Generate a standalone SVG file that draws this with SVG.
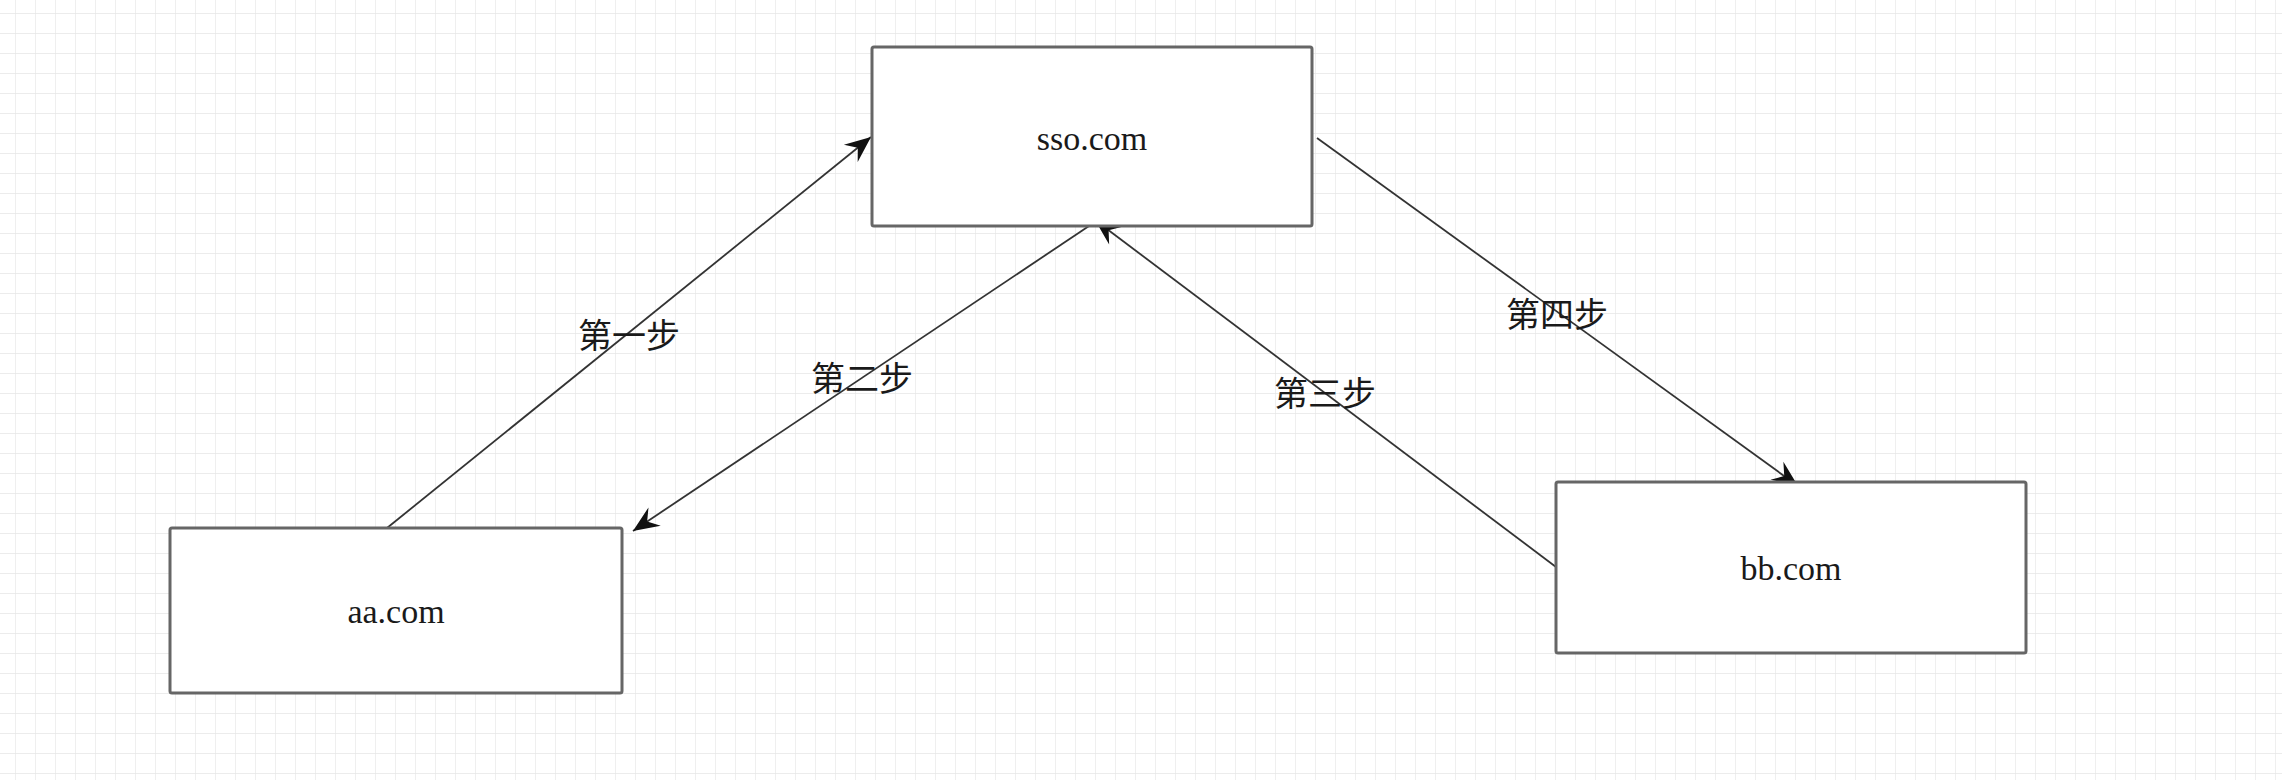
<svg xmlns="http://www.w3.org/2000/svg" width="2282" height="780" viewBox="0 0 2282 780">
<style>
.box{fill:#ffffff;stroke:#666666;stroke-width:3}
.lbl{font-family:"Liberation Serif","DejaVu Serif",serif;font-size:34px;fill:#1a1a1a;text-anchor:middle;dominant-baseline:central}
.step{font-family:"Liberation Serif","Noto Sans CJK SC",serif;font-size:34px;fill:#1a1a1a;text-anchor:middle;dominant-baseline:central}
.edge{fill:none;stroke:#333333;stroke-width:1.8}
</style>
<defs>
<pattern id="grid" patternUnits="userSpaceOnUse" x="15" y="13" width="20" height="20">
<path d="M0,0 V20 M0,0 H20" fill="none" stroke="#e6e6e6" stroke-width="1.3"/>
</pattern>
<marker id="arr" viewBox="-28 -13 30 26" refX="0" refY="0" markerWidth="30" markerHeight="26" markerUnits="userSpaceOnUse" orient="auto">
<path d="M0,0 L-26,-11 L-17,0 L-26,11 Z" fill="#111111"/>
</marker>
</defs>
<rect width="2282" height="780" fill="#ffffff"/>
<rect width="2282" height="780" fill="url(#grid)"/>
<g id="connectors">
<line class="edge" x1="387" y1="528" x2="871" y2="137" marker-end="url(#arr)"/>
<line class="edge" x1="1092" y1="224" x2="633" y2="531" marker-end="url(#arr)"/>
<line class="edge" x1="1556" y1="567" x2="1095" y2="220" marker-end="url(#arr)"/>
<line class="edge" x1="1317" y1="138" x2="1798" y2="486" marker-end="url(#arr)"/>
</g>
<g id="labels">
<text class="step" x="629" y="336">第一步</text>
<text class="step" x="862" y="379">第二步</text>
<text class="step" x="1325" y="394">第三步</text>
<text class="step" x="1557" y="315">第四步</text>
</g>
<g id="sso">
<rect class="box" x="872" y="47" width="440" height="179" rx="2"/>
<text class="lbl" x="1092" y="138">sso.com</text>
</g>
<g id="aa">
<rect class="box" x="170" y="528" width="452" height="165" rx="2"/>
<text class="lbl" x="396" y="611">aa.com</text>
</g>
<g id="bb">
<rect class="box" x="1556" y="482" width="470" height="171" rx="2"/>
<text class="lbl" x="1791" y="568">bb.com</text>
</g>
</svg>
